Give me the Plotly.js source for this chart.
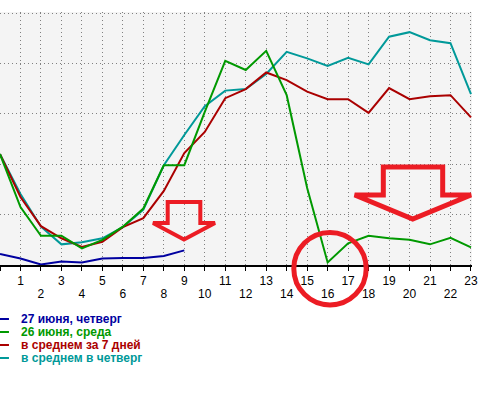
<!DOCTYPE html>
<html>
<head>
<meta charset="utf-8">
<script src="https://cdn.plot.ly/plotly-3.0.1.min.js"></script>
<style>
  html, body { margin: 0; padding: 0; background: #ffffff; }
  #chart { width: 484px; height: 397px; }
</style>
</head>
<body>
<div id="chart"></div>
<script>
// Hours of the day
var hours = [0,1,2,3,4,5,6,7,8,9,10,11,12,13,14,15,16,17,18,19,20,21,22,23];
var evenTicks = [0,2,4,6,8,10,12,14,16,18,20,22];

// Series names
var nameBlue = "27 июня, четверг";
var nameGreen = "26 июня, среда";
var nameRed = "в среднем за 7 дней";
var nameCyan = "в среднем в четверг";

// Series values (relative units)
var blueHours = [0,1,2,3,4,5,6,7,8,9];
var blueVals  = [0.22,0.13,0.01,0.07,0.05,0.13,0.14,0.14,0.18,0.29];
var greenVals = [2.20,1.15,0.58,0.58,0.33,0.50,0.76,1.12,1.98,1.98,3.04,4.05,3.87,4.25,3.37,1.53,0.05,0.43,0.58,0.53,0.50,0.41,0.54,0.35];
var redVals   = [2.20,1.35,0.77,0.53,0.36,0.46,0.75,0.93,1.47,2.22,2.64,3.31,3.49,3.82,3.67,3.44,3.29,3.29,3.02,3.51,3.29,3.35,3.37,2.93];
var cyanVals  = [2.20,1.41,0.76,0.41,0.45,0.53,0.75,1.10,1.98,2.58,3.15,3.46,3.49,3.79,4.23,4.10,3.95,4.11,3.98,4.53,4.62,4.46,4.40,3.39];

var colBlue = "#0000a0", colGreen = "#009900", colRed = "#aa0000", colCyan = "#009999";
var markRed = "#ec1c24";

var traces = [
  {x: hours, y: cyanVals, type: "scatter", mode: "lines", name: nameCyan, line: {color: colCyan, width: 2}, hoverinfo: "skip"},
  {x: hours, y: redVals, type: "scatter", mode: "lines", name: nameRed, line: {color: colRed, width: 2}, hoverinfo: "skip"},
  {x: hours, y: greenVals, type: "scatter", mode: "lines", name: nameGreen, line: {color: colGreen, width: 2}, hoverinfo: "skip"},
  {x: blueHours, y: blueVals, type: "scatter", mode: "lines", name: nameBlue, line: {color: colBlue, width: 2}, hoverinfo: "skip"},
  // empty helper trace so the second (even-label) x axis is drawn
  {x: evenTicks, y: evenTicks.map(function () { return null; }), xaxis: "x2", yaxis: "y",
   type: "scatter", mode: "lines", showlegend: false, hoverinfo: "skip"}
];

// legend (drawn as annotations + short line marks)
var legendNames = [nameBlue, nameGreen, nameRed, nameCyan];
var legendColors = [colBlue, colGreen, colRed, colCyan];
var legendRowsY = [-0.2134, -0.2648, -0.3162, -0.3676];

var annotations = [];
var shapes = [];
for (var i = 0; i < legendNames.length; i++) {
  annotations.push({
    xref: "paper", yref: "paper", x: 0.0424, y: legendRowsY[i],
    xanchor: "left", yanchor: "middle", showarrow: false, borderpad: 0,
    text: legendNames[i],
    font: {family: "Liberation Sans, Arial, sans-serif", size: 12, color: legendColors[i], weight: "bold"}
  });
  shapes.push({
    type: "line", xref: "paper", yref: "paper",
    x0: 0, x1: 0.019, y0: legendRowsY[i], y1: legendRowsY[i],
    line: {color: legendColors[i], width: 2}
  });
}

// red highlight marks
shapes.push({
  type: "path", xref: "paper", yref: "paper",
  path: "M0.3553,0.2490 L0.4244,0.2490 L0.4244,0.1660 L0.4555,0.1660 L0.3898,0.1008 L0.3242,0.1660 L0.3553,0.1660 Z",
  line: {color: markRed, width: 4}, fillcolor: "rgba(0,0,0,0)"
});
shapes.push({
  type: "path", xref: "paper", yref: "paper",
  path: "M0.8121,0.3874 L0.9379,0.3874 L0.9379,0.2767 L0.9979,0.2767 L0.8744,0.1818 L0.7515,0.2767 L0.8121,0.2767 Z",
  line: {color: markRed, width: 5}, fillcolor: "rgba(0,0,0,0)"
});
shapes.push({
  type: "circle", xref: "paper", yref: "paper",
  x0: 0.6225, x1: 0.7758, y0: -0.1577, y1: 0.1285,
  line: {color: markRed, width: 5}, fillcolor: "rgba(0,0,0,0)"
});

var tickFont = {family: "Liberation Sans, Arial, sans-serif", size: 12, color: "#000000"};

var layout = {
  width: 484, height: 397,
  margin: {l: 0, r: 12, t: 12, b: 132, pad: 0},
  paper_bgcolor: "#ffffff",
  plot_bgcolor: "#f4f4f4",
  showlegend: false,
  xaxis: {
    range: [0, 23.05], fixedrange: true,
    tickmode: "array", tickvals: hours,
    ticktext: hours.map(function (h) { return h % 2 ? String(h) : ""; }),
    showgrid: true, gridcolor: "#808080", gridwidth: 1, griddash: "1px,3px",
    zeroline: false,
    showline: true, linecolor: "#000000", linewidth: 2,
    ticks: "outside", ticklen: 4, tickwidth: 1, tickcolor: "#000000",
    tickfont: tickFont
  },
  xaxis2: {
    range: [0, 23.05], overlaying: "x", anchor: "y", side: "bottom", fixedrange: true,
    tickmode: "array", tickvals: evenTicks, ticktext: evenTicks.map(String),
    showgrid: false, zeroline: false, showline: false,
    ticks: "outside", ticklen: 4, tickwidth: 1, tickcolor: "#000000",
    ticklabelstandoff: 14,
    tickfont: tickFont
  },
  yaxis: {
    range: [0, 5.02], fixedrange: true,
    tickmode: "array", tickvals: [0, 1, 2, 3, 4, 5],
    showticklabels: false, ticks: "",
    showgrid: true, gridcolor: "#808080", gridwidth: 1, griddash: "1px,3px",
    zeroline: false, showline: false
  },
  annotations: annotations,
  shapes: shapes
};

Plotly.newPlot("chart", traces, layout, {displayModeBar: false, staticPlot: true});
</script>
</body>
</html>
